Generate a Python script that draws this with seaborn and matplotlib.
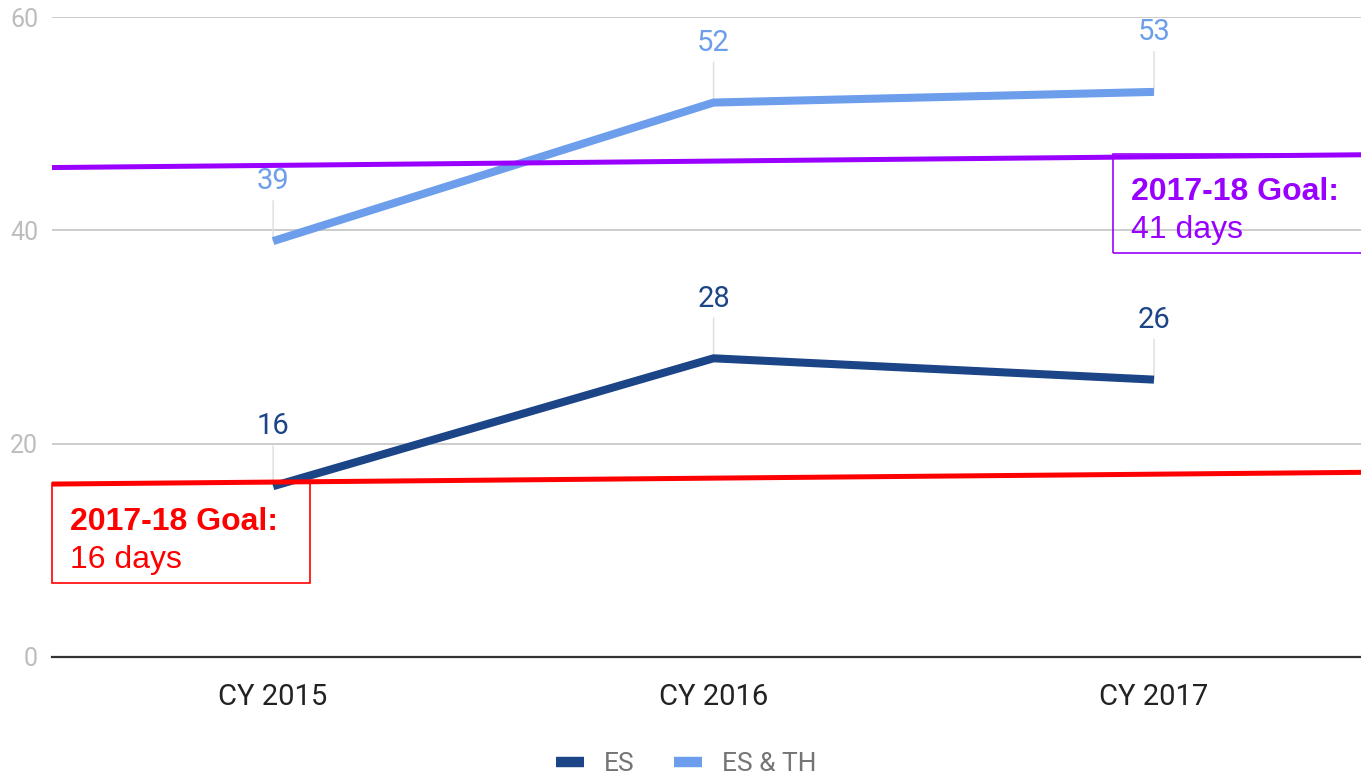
import seaborn as sns
import matplotlib.pyplot as plt
import pandas as pd
from matplotlib.patches import Rectangle

# data
years = ["CY 2015", "CY 2016", "CY 2017"]
es = [16, 28, 26]
es_th = [39, 52, 53]
# goal lines as drawn (value at left edge, value at right edge)
goal_es_line = [16.2, 17.3]
goal_es_th_line = [45.9, 47.1]

c_es = "#1c4587"
c_esth = "#6d9eeb"
c_red = "#ff0000"
c_purple = "#9900ff"

df = pd.DataFrame({
    "year": years * 2,
    "days": es + es_th,
    "series": ["ES"] * 3 + ["ES & TH"] * 3,
})

sns.set_theme(style="white")
plt.rcParams["font.family"] = ["Roboto", "DejaVu Sans"]
plt.rcParams["lines.solid_capstyle"] = "butt"

W, H = 1361, 779
fig = plt.figure(figsize=(W / 100, H / 100), dpi=100)
ax = fig.add_axes([52 / W, 1 - 656.7 / H, (W - 52) / W, (656.7 - 17.3) / H])

sns.lineplot(data=df, x="year", y="days", hue="series", sort=False,
             palette={"ES": c_es, "ES & TH": c_esth}, linewidth=5.8,
             ax=ax, zorder=3)

ax.set_xlim(-0.502, 2.47)
ax.set_ylim(0, 60)
ax.set_yticks([0, 20, 40, 60])
ax.grid(axis="y", color="#c8c8c8", linewidth=1.3)
ax.grid(axis="x", visible=False)
for s in ["top", "right", "left"]:
    ax.spines[s].set_visible(False)
ax.spines["bottom"].set_color("#333333")
ax.spines["bottom"].set_linewidth(1.6)
ax.set_xlabel("")
ax.set_ylabel("")
ax.tick_params(axis="y", length=0, pad=10, labelsize=18, labelcolor="#bdbdbd")
ax.tick_params(axis="x", length=0, pad=19, labelsize=21, labelcolor="#222222")

# data labels with leader lines
for vals, col in [(es, c_es), (es_th, c_esth)]:
    for i, v in enumerate(vals):
        ax.annotate("", xy=(i, v), xytext=(0, 29), textcoords="offset points",
                    arrowprops=dict(arrowstyle="-", color="#dedede", lw=1,
                                    shrinkA=0, shrinkB=0), zorder=2)
        ax.annotate(str(v), xy=(i, v), xytext=(0, 43), textcoords="offset points",
                    ha="center", va="center", fontsize=21, color=col)

# goal lines
xl = ax.get_xlim()
ax.plot(xl, goal_es_th_line, color=c_purple, lw=3.6, zorder=4, clip_on=False)
ax.plot(xl, goal_es_line, color=c_red, lw=3.6, zorder=4, clip_on=False)
ax.set_xlim(xl)

# goal boxes
def fx(px):
    return px / W

def fy(py):
    return 1 - py / H

fig.patches.append(Rectangle((fx(52), fy(583)), fx(310 - 52), (583 - 483) / H,
                             transform=fig.transFigure, fill=False,
                             edgecolor=c_red, lw=1.2, zorder=5))
fig.patches.append(Rectangle((fx(1113), fy(253)), fx(300), (253 - 154) / H,
                             transform=fig.transFigure, fill=False,
                             edgecolor=c_purple, lw=1.2, zorder=5))

lab = ["Liberation Sans", "DejaVu Sans"]
fig.text(fx(70), fy(522), "2017-18 Goal:", color=c_red, fontsize=23,
         fontweight="bold", family=lab, va="center")
fig.text(fx(70), fy(560), "16 days", color=c_red, fontsize=23,
         family=lab, va="center")
fig.text(fx(1131), fy(192), "2017-18 Goal:", color=c_purple, fontsize=23,
         fontweight="bold", family=lab, va="center")
fig.text(fx(1131), fy(230), "41 days", color=c_purple, fontsize=23,
         family=lab, va="center")

sns.move_legend(ax, "center", bbox_to_anchor=(0.4843, -0.168), ncol=2,
                frameon=False, title=None, fontsize=19, labelcolor="#757575",
                handlelength=1.06, handletextpad=0.76, columnspacing=1.5,
                borderpad=0.2)
for h in ax.get_legend().get_lines():
    h.set_linewidth(7.5)

fig.savefig("out.png", dpi=100)
